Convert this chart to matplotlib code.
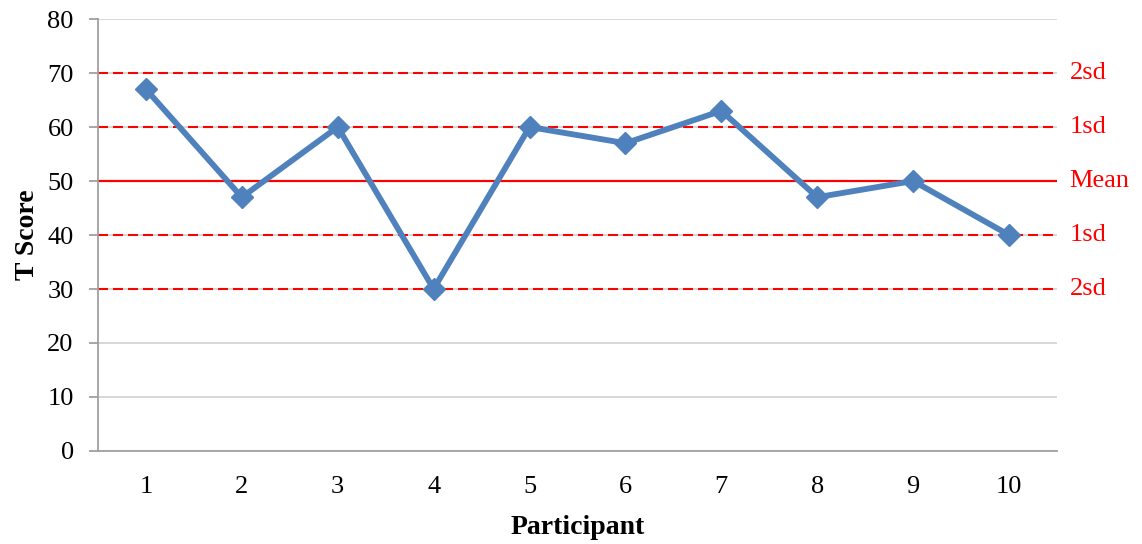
import numpy as np
import matplotlib.pyplot as plt

plt.rcParams['font.family'] = ['Liberation Serif', 'DejaVu Serif']

participants = ['1', '2', '3', '4', '5', '6', '7', '8', '9', '10']
t_scores = [67, 47, 60, 30, 60, 57, 63, 47, 50, 40]

ref_levels = [70, 60, 50, 40, 30]
ref_labels = ['2sd', '1sd', 'Mean', '1sd', '2sd']
ref_styles = ['--', '--', '-', '--', '--']

fig = plt.figure(figsize=(11.42, 5.44), dpi=100)
ax = fig.add_axes([0.0858, 0.171, 0.8398, 0.794])

x = np.arange(1, len(participants) + 1)

# grid lines
ax.set_ylim(0, 80)
ax.set_xlim(0.5, len(participants) + 0.5)
ax.set_yticks(np.arange(0, 81, 10))
ax.yaxis.grid(True, color='#d4d4d4', linewidth=1.3)
ax.set_axisbelow(True)

# mean and sd reference lines
for lvl, lab, ls in zip(ref_levels, ref_labels, ref_styles):
    if ls == '--':
        ax.axhline(lvl, color='#ff0000', linewidth=1.5, linestyle=(0, (4.8, 2.4)), zorder=2)
    else:
        ax.axhline(lvl, color='#ff0000', linewidth=1.6, zorder=2)
    ax.text(1.013, lvl, lab, transform=ax.get_yaxis_transform(), color='#ff0000',
            fontsize=19, va='center', ha='left')

ax.plot(x, t_scores, color='#4f81bd', linewidth=4.2, marker='D', markersize=11,
        zorder=3)

ax.set_xticks(x)
ax.set_xticklabels(participants)
ax.tick_params(axis='x', length=0, labelsize=19, pad=18)
ax.tick_params(axis='y', length=6.5, width=1.3, color='#a0a0a0', labelsize=19, pad=11)

for side in ['top', 'right']:
    ax.spines[side].set_visible(False)
ax.spines['left'].set_color('#a0a0a0')
ax.spines['left'].set_linewidth(1.3)
ax.spines['bottom'].set_color('#a0a0a0')
ax.spines['bottom'].set_linewidth(1.3)

ax.set_ylabel('T Score', fontsize=20, fontweight='bold', labelpad=5)
ax.set_xlabel('Participant', fontsize=20, fontweight='bold', labelpad=12)

fig.savefig('out.png', dpi=100)
